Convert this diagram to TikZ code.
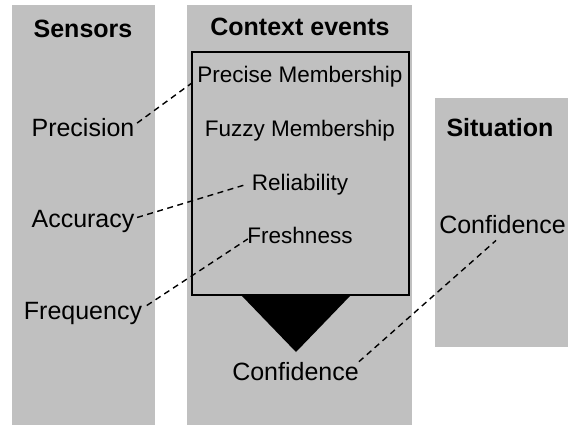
\documentclass[tikz,border=0pt]{standalone}
\usepackage{fontspec}
\setmainfont{Liberation Sans}
\usetikzlibrary{calc}
\definecolor{panelgray}{RGB}{192,192,192}
\tikzset{
  panel/.style={fill=panelgray, draw=none},
  head/.style={font=\fontsize{25}{30}\selectfont\bfseries, inner sep=0pt, anchor=base},
  lbl/.style={font=\fontsize{25}{30}\selectfont, inner sep=0pt, anchor=base},
  inlbl/.style={font=\fontsize{22.5}{27}\selectfont, inner sep=0pt, anchor=base},
  evbox/.style={draw=black, line width=1.3pt, fill=panelgray, inner sep=0pt},
  link/.style={draw=black, line width=1.4pt, dash pattern=on 6pt off 4.5pt}
}
\begin{document}
\begin{tikzpicture}[x=1pt, y=-1pt]
  \useasboundingbox (0,0) rectangle (568,426);

  % column backgrounds
  \fill[panel] (12,5) rectangle (155,425);
  \fill[panel] (187,5) rectangle (412,425);
  \fill[panel] (435,98) rectangle (568,347);

  % column headings
  \node[head] (hsens) at (83,37) {Sensors};
  \node[head] (hctx)  at (300,35) {Context events};
  \node[head] (hsit)  at (500,136) {Situation};

  % sensor qualities
  \node[lbl] (prec) at (83,136) {Precision};
  \node[lbl] (acc)  at (83,227) {Accuracy};
  \node[lbl] (freq) at (83,319) {Frequency};

  % context event box and its qualities
  \node[evbox, minimum width=217pt, minimum height=243pt] (box) at (300.5,173.5) {};
  \node[inlbl] (pm)    at (300,82)  {Precise Membership};
  \node[inlbl] (fm)    at (300,136) {Fuzzy Membership};
  \node[inlbl] (rel)   at (300,190) {Reliability};
  \node[inlbl] (fresh) at (300,243) {Freshness};

  % aggregation funnel
  \fill[black] (241,295) -- (351,295) -- (296,352) -- cycle;
  \node[lbl] (conf1) at (295.5,380) {Confidence};

  % situation quality
  \node[lbl] (conf2) at (502.5,233) {Confidence};

  % dashed correspondences
  \draw[link] ($(prec.east)+(2.5,-4)$) -- ($(box.north west)+(0,32)$);
  \draw[link] ($(acc.east)+(2.5,-3.5)$) -- ($(rel.west)+(-4.5,0)$);
  \draw[link] ($(freq.east)+(4.5,-7.5)$) -- ($(fresh.west)+(0.5,4)$);
  \draw[link] (conf1.north east) -- ($(conf2.south)+(-6.5,7)$);
\end{tikzpicture}
\end{document}
